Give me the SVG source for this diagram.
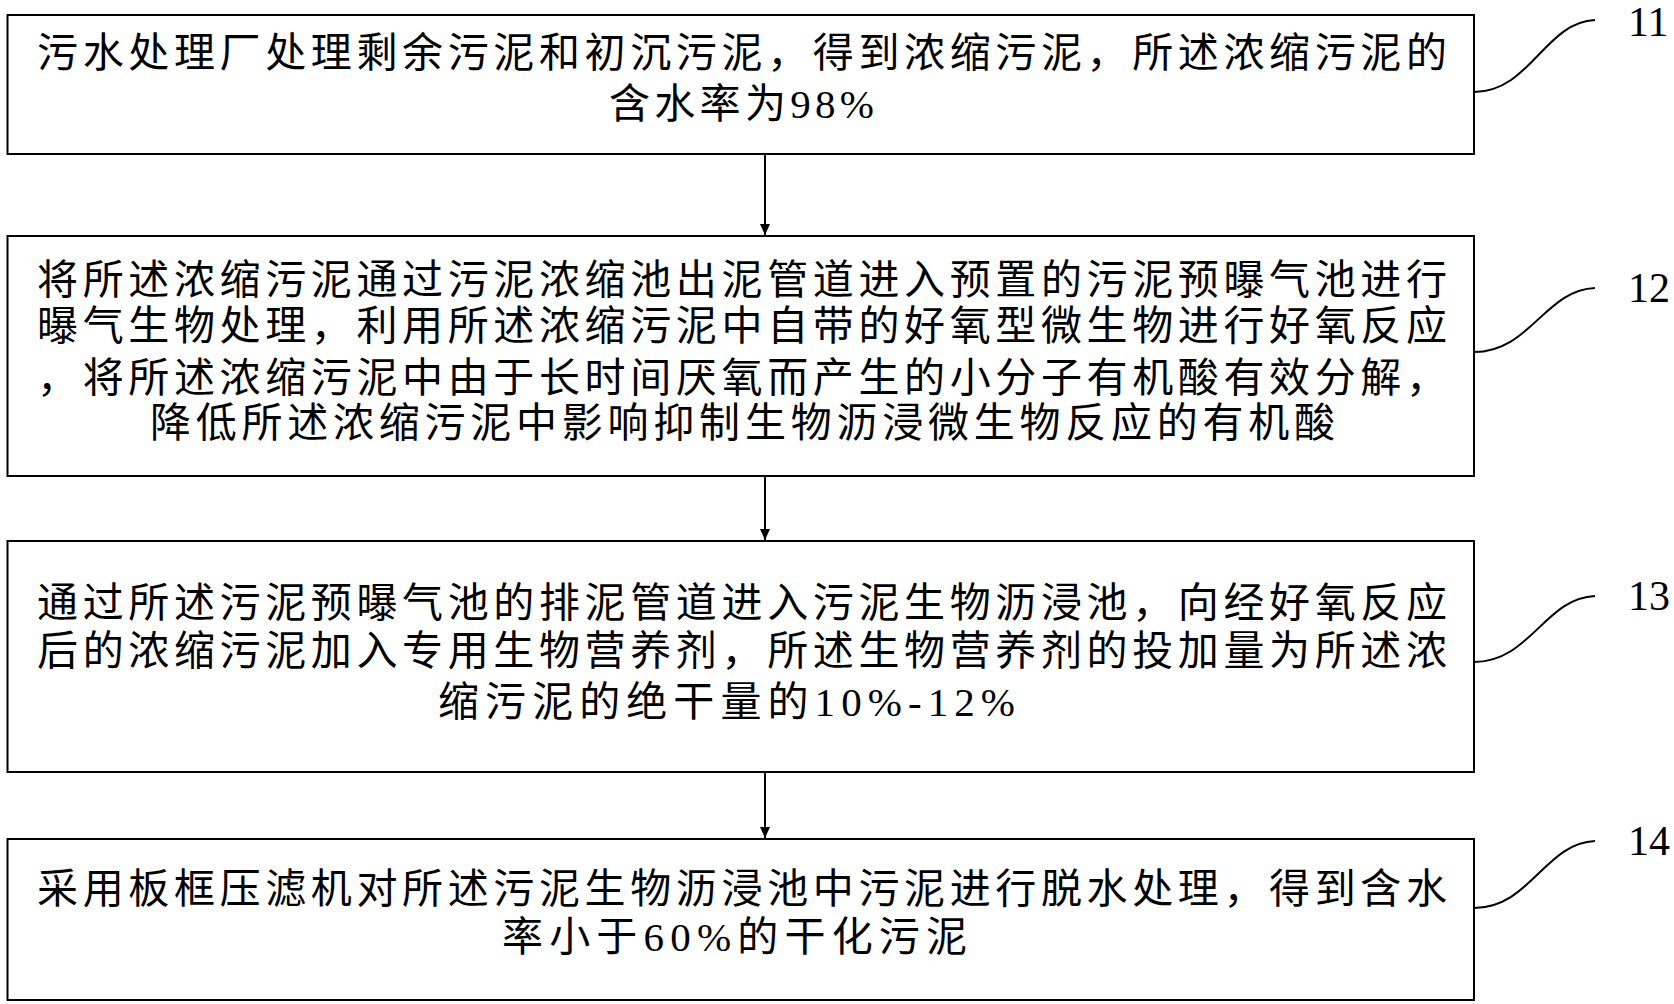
<svg xmlns="http://www.w3.org/2000/svg" width="1674" height="1004" viewBox="0 0 1674 1004">
<style>
.b{fill:#fff;stroke:#000;stroke-width:2}
.t{font-family:"Liberation Serif","Noto Sans CJK SC",serif;font-size:41px;fill:#000}
.n{font-family:"Liberation Serif",serif;font-size:42px;fill:#000}
.l{fill:none;stroke:#000;stroke-width:2}
</style>
<defs><marker id="a" markerWidth="12" markerHeight="12" refX="11" refY="6" orient="auto" markerUnits="userSpaceOnUse"><path d="M0,1 L11,6 L0,11 Z"/></marker></defs>
<rect width="1674" height="1004" fill="#fff"/>
<g id="n11"><rect class="b" x="7.5" y="15" width="1466.5" height="139"/>
<text class="t" x="37" y="67" textLength="1410" lengthAdjust="spacing">污水处理厂处理剩余污泥和初沉污泥，得到浓缩污泥，所述浓缩污泥的</text>
<text class="t" x="609" y="118" textLength="265" lengthAdjust="spacing">含水率为98%</text></g>
<g id="n12"><rect class="b" x="7.5" y="236" width="1466.5" height="240"/>
<text class="t" x="37" y="294" textLength="1410" lengthAdjust="spacing">将所述浓缩污泥通过污泥浓缩池出泥管道进入预置的污泥预曝气池进行</text>
<text class="t" x="37" y="340" textLength="1410" lengthAdjust="spacing">曝气生物处理，利用所述浓缩污泥中自带的好氧型微生物进行好氧反应</text>
<text class="t" x="37" y="392" textLength="1410" lengthAdjust="spacing">，将所述浓缩污泥中由于长时间厌氧而产生的小分子有机酸有效分解，</text>
<text class="t" x="150" y="437" textLength="1185" lengthAdjust="spacing">降低所述浓缩污泥中影响抑制生物沥浸微生物反应的有机酸</text></g>
<g id="n13"><rect class="b" x="7.5" y="541" width="1466.5" height="231"/>
<text class="t" x="37" y="617" textLength="1410" lengthAdjust="spacing">通过所述污泥预曝气池的排泥管道进入污泥生物沥浸池，向经好氧反应</text>
<text class="t" x="37" y="665" textLength="1410" lengthAdjust="spacing">后的浓缩污泥加入专用生物营养剂，所述生物营养剂的投加量为所述浓</text>
<text class="t" x="438" y="716" textLength="577" lengthAdjust="spacing">缩污泥的绝干量的10%-12%</text></g>
<g id="n14"><rect class="b" x="7.5" y="839" width="1466.5" height="161"/>
<text class="t" x="37" y="903" textLength="1410" lengthAdjust="spacing">采用板框压滤机对所述污泥生物沥浸池中污泥进行脱水处理，得到含水</text>
<text class="t" x="502" y="951" textLength="465" lengthAdjust="spacing">率小于60%的干化污泥</text></g>
<g id="labels">
<path class="l" d="M1474,92 C1530,92 1545,22 1595,20"/><text class="n" x="1628" y="36">11</text>
<path class="l" d="M1474,352 C1530,352 1545,290 1595,288"/><text class="n" x="1628" y="302">12</text>
<path class="l" d="M1474,662 C1530,662 1545,598 1595,596"/><text class="n" x="1628" y="610">13</text>
<path class="l" d="M1474,908 C1530,908 1545,843 1595,841"/><text class="n" x="1628" y="855">14</text>
</g>
<g id="connectors">
<line class="l" x1="765" y1="154" x2="765" y2="235" marker-end="url(#a)"/>
<line class="l" x1="765" y1="476" x2="765" y2="540" marker-end="url(#a)"/>
<line class="l" x1="765" y1="772" x2="765" y2="838" marker-end="url(#a)"/>
</g>
</svg>
